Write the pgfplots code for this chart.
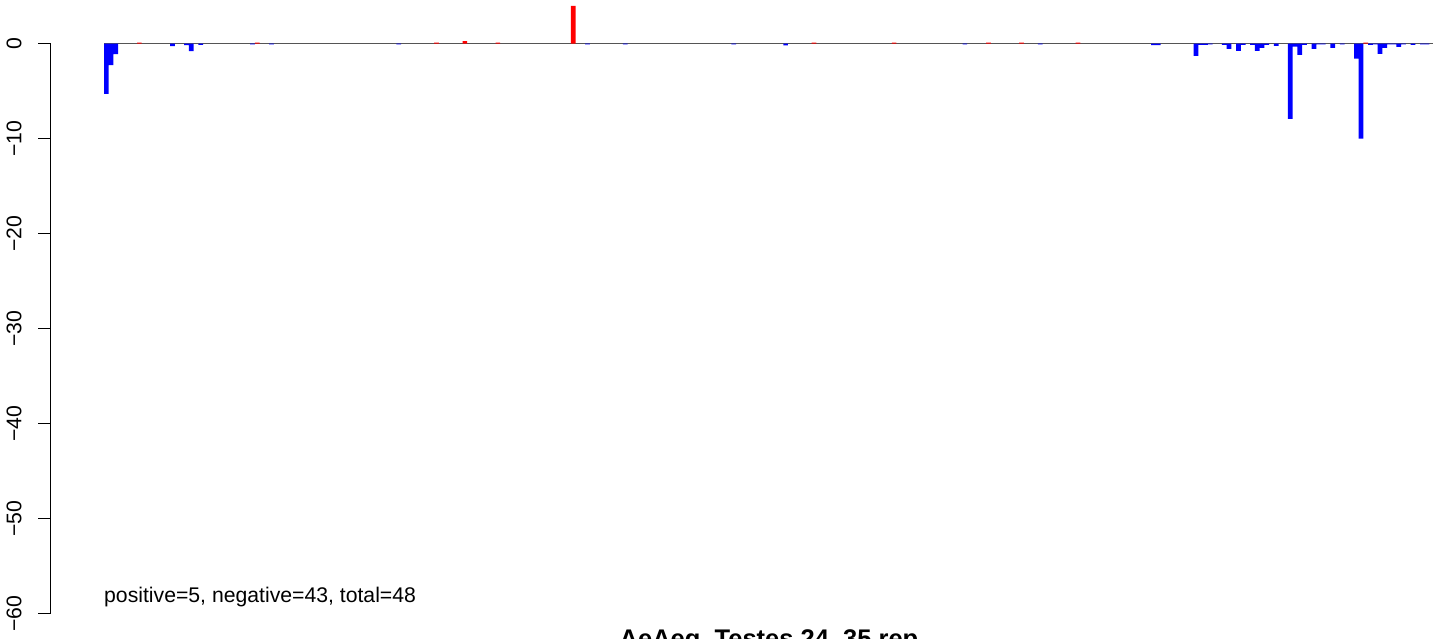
\documentclass[border=0pt]{standalone}
\usepackage{fontspec}
\setmainfont{Liberation Sans}
\usepackage{graphicx}
\usepackage{pgfplots}
\pgfplotsset{compat=1.18}
\definecolor{rblue}{RGB}{0,0,255}
\definecolor{rred}{RGB}{255,0,0}
\definecolor{zline}{RGB}{85,85,85}
\begin{document}
\begin{tikzpicture}
\begin{axis}[
  scale only axis, width=1393.3pt, height=570pt,
  xmin=-11.8, xmax=283.58, ymin=-60, ymax=0,
  axis x line=none, axis y line=left,
  axis line style={-, line width=1pt, black},
  clip=false,
  xtick=\empty,
  ytick={-60,-50,-40,-30,-20,-10,0},
  yticklabels={{\rotatebox{90}{−60}},{\rotatebox{90}{−50}},{\rotatebox{90}{−40}},{\rotatebox{90}{−30}},{\rotatebox{90}{−20}},{\rotatebox{90}{−10}},{\rotatebox{90}{0}}},
  tick align=outside, major tick length=12.7pt,
  ytick style={black, line width=1pt},
  yticklabel style={anchor=east, inner sep=0pt, xshift=-16.3pt, font=\fontsize{21.2}{25}\selectfont},
]
\addplot[zline, line width=1.6pt, no marks] coordinates {(-0.5,0) (281.2,0)};
\addplot[ybar, bar width=1, bar shift=0pt, fill=rblue, draw=none] coordinates {
(0,-5.3) (1,-2.27) (2,-1.12) (14,-0.28) (17,-0.18) (18,-0.8) (20,-0.15)
(31,-0.1) (35,-0.1) (62,-0.1) (102,-0.1) (110,-0.1) (133,-0.1) (144,-0.2)
(182,-0.1) (198,-0.1) (222,-0.18) (223,-0.18)
(231,-1.3) (232,-0.15) (233,-0.15) (234,-0.1) (237,-0.15) (238,-0.57)
(240,-0.78) (241,-0.15) (243,-0.15) (244,-0.78) (245,-0.46) (246,-0.15)
(248,-0.25) (251,-7.93) (252,-0.32) (253,-1.2) (254,-0.15)
(256,-0.57) (257,-0.1) (258,-0.1) (260,-0.46) (262,-0.1)
(265,-1.6) (266,-10.0) (268,-0.15) (269,-0.1) (270,-1.1) (271,-0.46)
(272,-0.1) (273,-0.1) (274,-0.35) (275,-0.1) (277,-0.15) (279,-0.1) (280,-0.1)
};
\addplot[ybar, bar width=1, bar shift=0pt, fill=rred, draw=none] coordinates {
(7,0.1) (32,0.1) (70,0.1) (76,0.24) (83,0.1) (99,3.95) (150,0.1)
(167,0.1) (187,0.1) (194,0.1) (206,0.1) (267,0.1)
};
\node[anchor=base west, inner sep=0pt, font=\fontsize{21.2}{25}\selectfont] at (axis cs:-0.5,-58.79) {positive=5, negative=43, total=48};
\node[anchor=base, inner sep=0pt, font=\fontsize{25.5}{30}\selectfont\bfseries] at (axis cs:140.48,-63.56) {AeAeg\_Testes.24\_35.rep};
\coordinate (bbtl) at (axis cs:-22.55,4.58);
\coordinate (bbbr) at (axis cs:283.58,-62.68);
\end{axis}
\pgfresetboundingbox
\path[use as bounding box] (bbtl) rectangle (bbbr);
\end{tikzpicture}
\end{document}
